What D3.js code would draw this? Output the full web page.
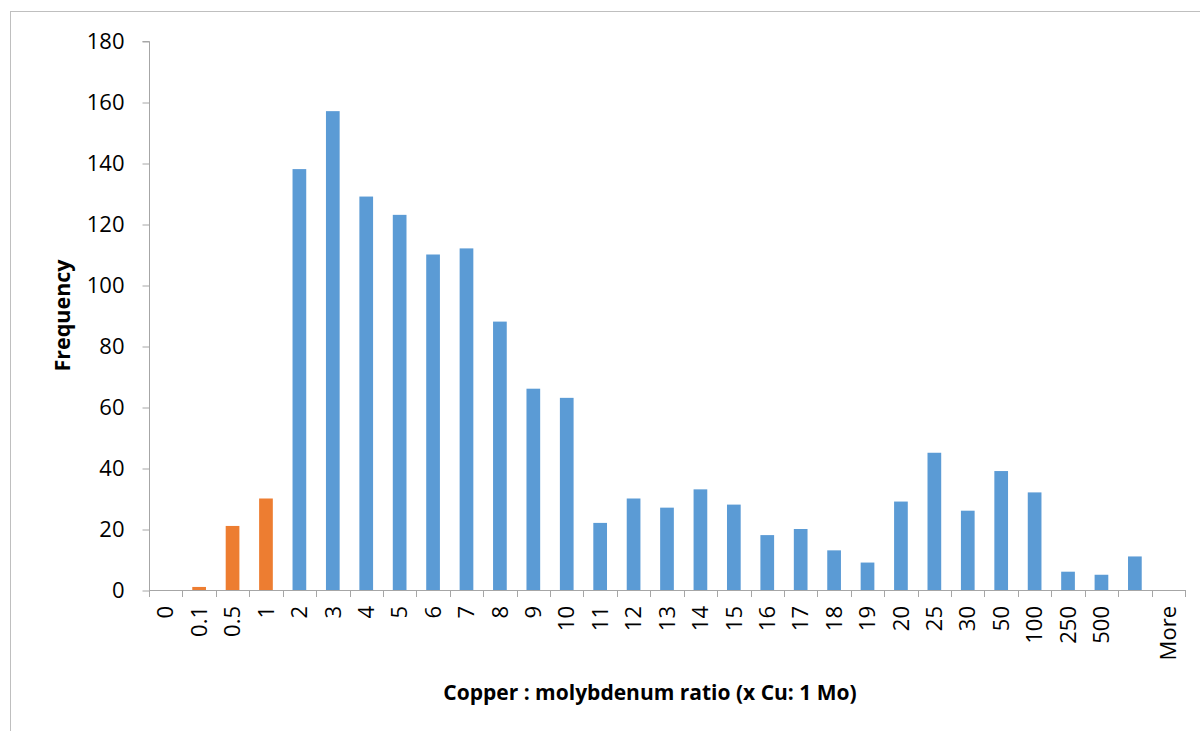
<!DOCTYPE html>
<html>
<head>
<meta charset="utf-8">
<script src="https://cdn.jsdelivr.net/npm/d3@7/dist/d3.min.js"></script>
<style>
  html, body { margin: 0; padding: 0; background: #fff; }
  svg { display: block; }
  text { font-family: "Open Sans", "Liberation Sans", sans-serif; fill: #000; }
</style>
</head>
<body>
<svg id="chart" width="1200" height="731"></svg>
<script>
// Cu:Mo ratio histogram bins (last unlabeled bin sits before "More")
const bins = ['0','0.1','0.5','1','2','3','4','5','6','7','8','9','10','11','12','13','14',
  '15','16','17','18','19','20','25','30','50','100','250','500','','More'];
const frequency = [0,1,21,30,138,157,129,123,110,112,88,66,63,22,30,27,33,28,18,20,13,9,29,45,26,39,32,6,5,11,0];
const lowBins = ['0','0.1','0.5','1'];   // highlighted in orange
const yTicks = [0,20,40,60,80,100,120,140,160,180];

const W = 1200, H = 731;
const plotL = 149, plotR = 1185, plotT = 41, plotB = 590;
const BLUE = '#5b9bd5', ORANGE = '#ed7d31', AXIS = '#a6a6a6';

const svg = d3.select('#chart');

// chart area frame
svg.append('rect').attr('x', 10.5).attr('y', 11.5).attr('width', W).attr('height', H)
  .attr('fill', 'none').attr('stroke', '#bfbfbf').attr('stroke-width', 1);

const x = d3.scaleBand().domain(bins.map((d, i) => i)).range([plotL, plotR]).padding(0);
const y = d3.scaleLinear().domain([0, 180]).range([plotB, plotT]);

// bars
const bw = x.bandwidth() * 0.41;
svg.append('g').selectAll('rect')
  .data(frequency)
  .join('rect')
  .attr('x', (d, i) => x(i) + x.bandwidth() / 2 - bw / 2)
  .attr('y', d => y(d))
  .attr('width', bw)
  .attr('height', d => y(0) - y(d))
  .attr('fill', (d, i) => lowBins.includes(bins[i]) ? ORANGE : BLUE);

// y axis
const yAxis = svg.append('g').attr('transform', `translate(${plotL + 0.5},0)`)
  .call(d3.axisLeft(y).tickValues(yTicks).tickSize(7).tickPadding(18));
yAxis.select('.domain').attr('stroke', AXIS).attr('d', `M-7,${plotT + 0.5}H0V${plotB + 0.5}`);
yAxis.selectAll('.tick line').attr('stroke', AXIS).attr('transform', 'translate(0,0.5)');
yAxis.selectAll('.tick text').style('font-size', '22px').attr('font-family', null).attr('fill', '#000');

// x axis line + boundary ticks
const gx = svg.append('g');
gx.append('line').attr('x1', plotL).attr('x2', plotR).attr('y1', plotB + 0.5).attr('y2', plotB + 0.5)
  .attr('stroke', AXIS);
const bounds = bins.map((d, i) => x(i)).concat([plotR]);
gx.selectAll('.xt').data(bounds).join('line').attr('class', 'xt')
  .attr('x1', d => Math.round(d) + 0.5).attr('x2', d => Math.round(d) + 0.5)
  .attr('y1', plotB).attr('y2', plotB + 7).attr('stroke', AXIS);

// x tick labels, rotated
gx.selectAll('.xl').data(bins).join('text').attr('class', 'xl')
  .attr('transform', (d, i) => `translate(${x(i) + x.bandwidth() / 2},606) rotate(-90)`)
  .attr('text-anchor', 'end').attr('dy', '0.35em')
  .style('font-size', '22px')
  .text(d => d);

// axis titles
svg.append('text').attr('transform', `translate(62,${(plotT + plotB) / 2}) rotate(-90)`)
  .attr('text-anchor', 'middle').attr('dy', '0.35em')
  .style('font-size', '21.5px').style('font-weight', 'bold').text('Frequency');
svg.append('text').attr('x', 650).attr('y', 700).attr('text-anchor', 'middle')
  .style('font-size', '21px').style('font-weight', 'bold')
  .text('Copper : molybdenum ratio (x Cu: 1 Mo)');
</script>
</body>
</html>
